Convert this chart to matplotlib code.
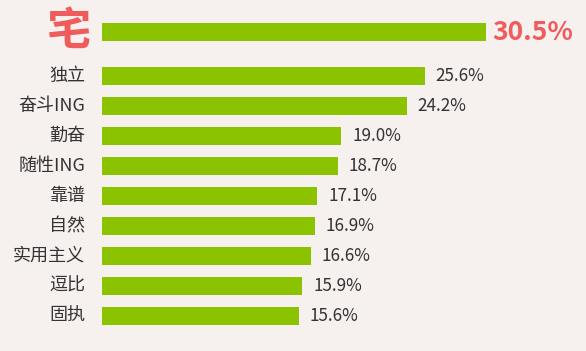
import numpy as np
import matplotlib.pyplot as plt
from matplotlib.transforms import blended_transform_factory

plt.rcParams['font.family'] = ['Noto Sans CJK SC', 'DejaVu Sans']

# data
top_label = "宅"
top_value = 30.5
labels = ["独立", "奋斗ING", "勤奋", "随性ING", "靠谱", "自然", "实用主义", "逗比", "固执"]
values = [25.6, 24.2, 19.0, 18.7, 17.1, 16.9, 16.6, 15.9, 15.6]

bg = "#f6f0ee"
green = "#8cc300"
red = "#f05b5b"

fig = plt.figure(figsize=(5.86, 3.51), dpi=100, facecolor=bg)
ax = fig.add_axes([102 / 586, 0, 1 - 102 / 586, 1])
ax.set_facecolor(bg)

pos = np.arange(len(labels))
top_pos = -44 / 30

ax.barh(pos, values, height=0.63, color=green)
ax.barh([top_pos], [top_value], height=0.63, color=green)

ax.set_xlim(0, 484 / 12.6)
ax.set_ylim((351 - 76) / 30, -76 / 30)
ax.axis("off")

tr = blended_transform_factory(fig.transFigure, ax.transData)
for p, lab, v in zip(pos, labels, values):
    ax.text(85 / 586, p, lab, transform=tr, ha="right", va="center",
            fontsize=13, color="#333333", fontweight="light")
    ax.text(v + 0.85, p, "%.1f%%" % v, ha="left", va="center",
            fontsize=12.3, color="#333333", fontweight="light")

ax.text(91 / 586, top_pos, top_label, transform=tr, ha="right", va="center",
        fontsize=32, color=red, fontweight="bold")
ax.text(top_value + 0.45, top_pos, "%.1f%%" % top_value, ha="left", va="center",
        fontsize=19, color=red, fontweight="bold")

fig.savefig("out.png", dpi=100, facecolor=bg)
